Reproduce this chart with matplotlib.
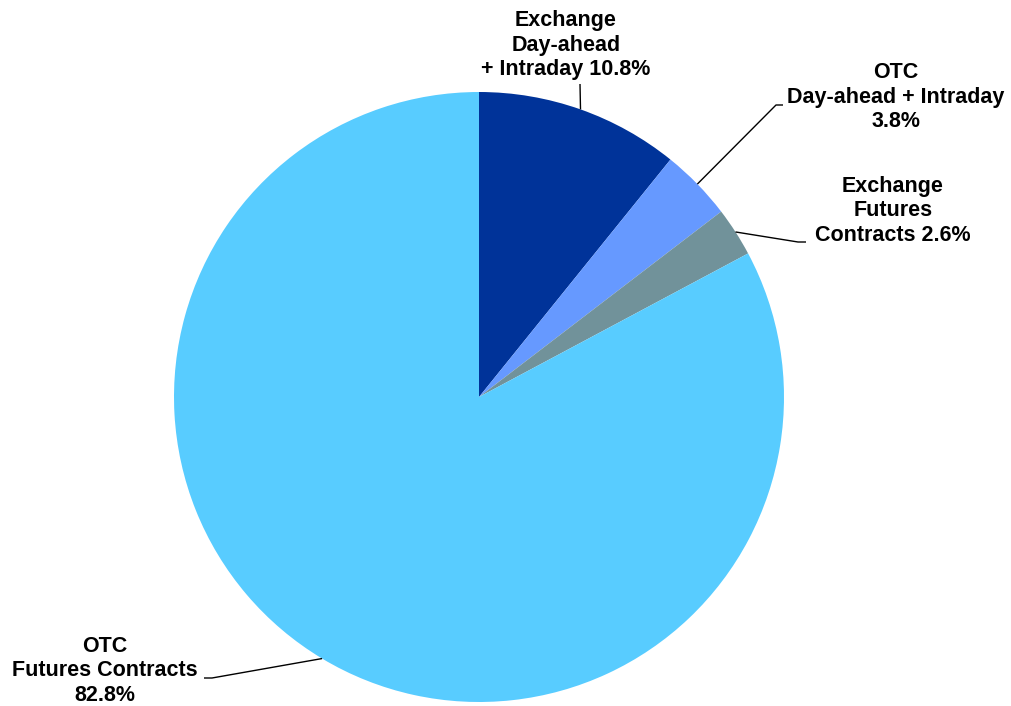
import numpy as np
import matplotlib
matplotlib.use("Agg")
import matplotlib.pyplot as plt

# Market share by trading venue / product
labels = ["Exchange\nDay-ahead\n+ Intraday 10.8%",
          "OTC\nDay-ahead + Intraday\n3.8%",
          "Exchange\nFutures\nContracts 2.6%",
          "OTC\nFutures Contracts\n82.8%"]
shares = [10.8, 3.8, 2.6, 82.8]
colors = ["#003399", "#6699FF", "#71929A", "#58CCFF"]

W, H = 1011, 706
fig = plt.figure(figsize=(W / 100, H / 100), dpi=100)
ax = fig.add_axes([0, 0, 1, 1])

cx, cy, r = 479, H - 397, 305
ax.pie(shares, colors=colors, startangle=90, counterclock=False,
       center=(cx, cy), radius=r, wedgeprops=dict(linewidth=0),
       frame=True)
ax.set_xlim(0, W)
ax.set_ylim(0, H)
ax.set_aspect("equal")
ax.axis("off")

# label centres and leader-line routes (elbow, end) in pixel space, y down
label_xy = [(566, 45), (896, 97), (893, 211), (105, 671)]
leaders = [[(580, 84)],
           [(776, 105), (783, 105)],
           [(798, 242), (806, 242)],
           [(212, 678), (204, 678)]]

total = sum(shares)
cum = 0.0
for lab, s, (tx, ty), route in zip(labels, shares, label_xy, leaders):
    mid = (cum + s / 2) / total * 2 * np.pi
    cum += s
    ax_pt = (cx + r * np.sin(mid), cy + r * np.cos(mid))
    xs = [ax_pt[0]] + [p[0] for p in route]
    ys = [ax_pt[1]] + [H - p[1] for p in route]
    ax.plot(xs, ys, color="black", lw=1.0, solid_capstyle="butt")
    ax.text(tx, H - ty, lab, ha="center", va="center", multialignment="center",
            fontsize=15.5, fontweight="bold", family="Liberation Sans",
            linespacing=1.24)

fig.savefig("out.png", dpi=100)
